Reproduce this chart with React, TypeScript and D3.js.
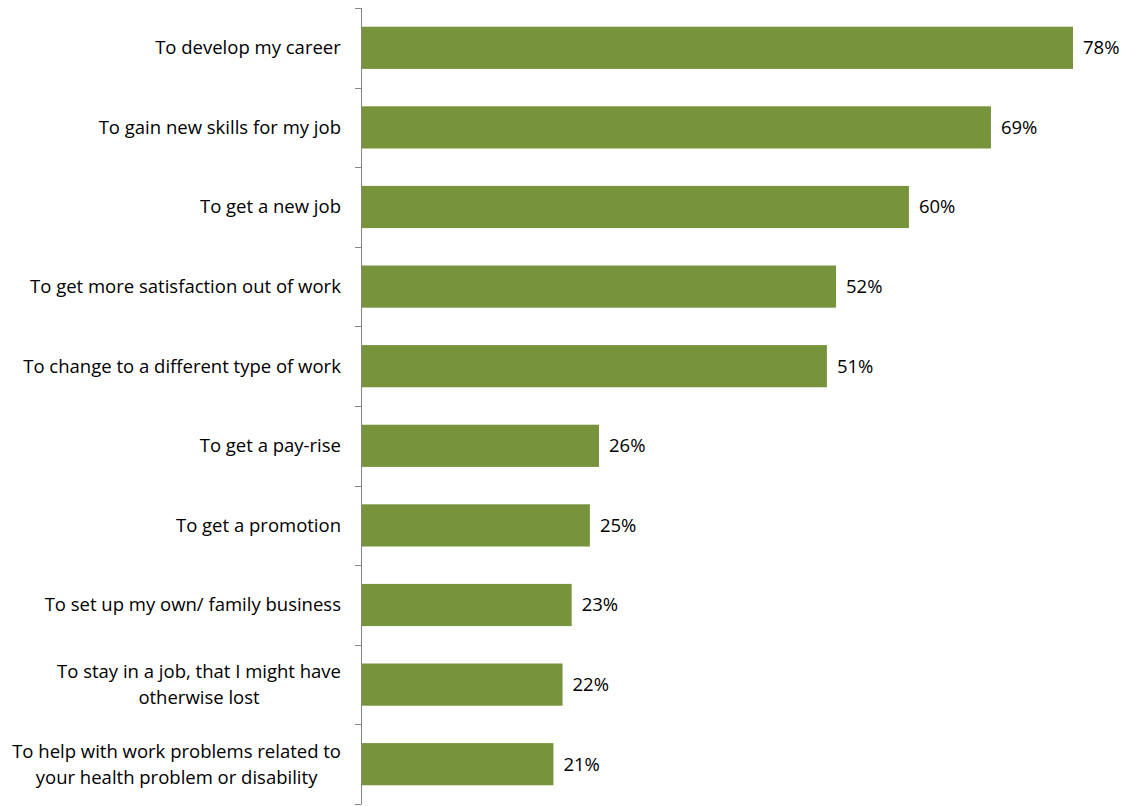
import React, { useEffect, useRef } from "react";
import * as d3 from "d3";

const categories: string[][] = [
  ["To develop my career"],
  ["To gain new skills for my job"],
  ["To get a new job"],
  ["To get more satisfaction out of work"],
  ["To change to a different type of work"],
  ["To get a pay-rise"],
  ["To get a promotion"],
  ["To set up my own/ family business"],
  ["To stay in a job, that I might have", "otherwise lost"],
  ["To help with work problems related to", "your health problem or disability"],
];
const values: number[] = [78, 69, 60, 52, 51, 26, 25, 23, 22, 21];

const W = 1130;
const H = 806;
const FONT = "'Open Sans', sans-serif";
const FS = 18.5;

export default function App() {
  const ref = useRef<SVGSVGElement | null>(null);
  useEffect(() => {
    const svg = d3.select(ref.current);
    svg.selectAll("*").remove();
    const x0 = 361;
    const x = d3.scaleLinear().domain([0, 78]).range([x0 + 1, 1073]);
    const idx = values.map((_, i) => String(i));
    const y = d3.scaleBand().domain(idx).range([8, 804]).paddingInner(0.47).paddingOuter(0.235);
    const step = y.step();

    // bars
    svg.append("g").selectAll("rect").data(values).join("rect")
      .attr("x", x(0))
      .attr("y", (_, i) => y(String(i))!)
      .attr("width", (d) => x(d) - x(0))
      .attr("height", y.bandwidth())
      .attr("fill", "#77933C");

    // axis line + ticks
    const ax = svg.append("g").attr("stroke", "#868686").attr("stroke-width", 1);
    ax.append("line").attr("x1", x0 + 0.5).attr("x2", x0 + 0.5).attr("y1", 8).attr("y2", 804);
    for (let i = 0; i <= values.length; i++) {
      const yy = Math.round(8 + i * step) + 0.5;
      ax.append("line").attr("x1", x0 - 6).attr("x2", x0 + 0.5).attr("y1", yy).attr("y2", yy);
    }

    // value labels
    svg.append("g").selectAll("text").data(values).join("text")
      .attr("x", (d) => x(d) + 10)
      .attr("y", (_, i) => y(String(i))! + y.bandwidth() / 2)
      .attr("dy", "0.35em")
      .attr("font-family", FONT)
      .attr("font-size", FS)
      .attr("fill", "#000")
      .text((d) => `${d}%`);

    // category labels
    const lg = svg.append("g");
    categories.forEach((lines, i) => {
      const cy = y(String(i))! + y.bandwidth() / 2;
      const lh = 26;
      const t = lg.append("text")
        .attr("font-family", FONT)
        .attr("font-size", FS)
        .attr("fill", "#000")
        .attr("text-anchor", "middle");
      lines.forEach((ln, j) => {
        t.append("tspan").attr("x", 0).attr("y", cy + (j - (lines.length - 1) / 2) * lh).attr("dy", "0.35em").text(ln);
      });
      const node = t.node() as SVGTextElement;
      const w = node.getBBox().width;
      t.selectAll("tspan").attr("x", 341 - w / 2);
    });
  }, []);
  return <svg ref={ref} width={W} height={H} style={{ display: "block", position: "absolute", left: 0, top: 0 }} />;
}
